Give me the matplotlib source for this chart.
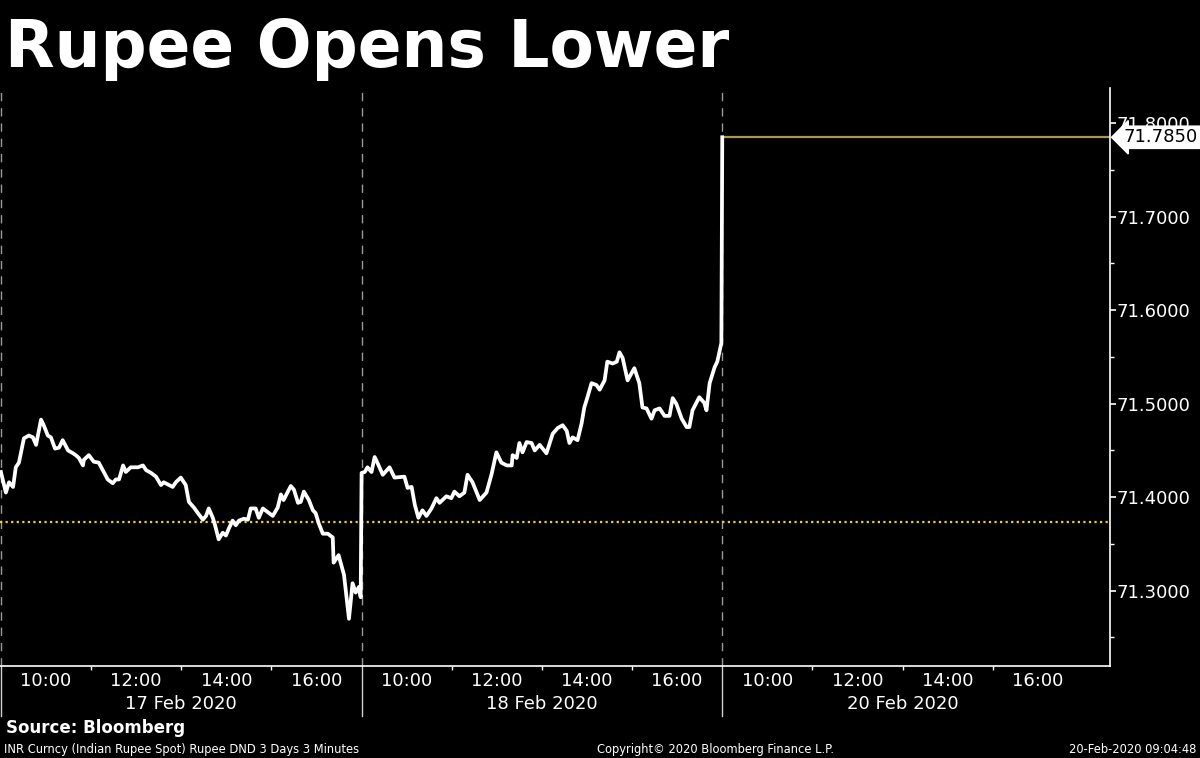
#!/usr/bin/python3
#
# Bloomberg-style intraday chart of the Indian rupee (INR per USD), 17-20 Feb 2020.

import matplotlib

matplotlib.use("Agg")
import matplotlib.pyplot as plt
import matplotlib.ticker as ticker
import matplotlib.transforms as transforms

title = "Rupee Opens Lower"
days = ["17 Feb 2020", "18 Feb 2020", "20 Feb 2020"]
session_open = 9
session_len = 8
hour_labels = [10, 12, 14, 16]

# Hour of day and INR spot rate.
day1_hours = [
    9.00, 9.11, 9.18, 9.27, 9.33, 9.40, 9.51, 9.62, 9.71, 9.78, 9.89, 9.95,
    10.04, 10.11, 10.20, 10.29, 10.37, 10.49, 10.60, 10.66, 10.73, 10.82, 10.84,
    10.95, 11.06, 11.17, 11.26, 11.37, 11.48, 11.55, 11.62, 11.71, 11.77, 11.88,
    12.04, 12.15, 12.22, 12.33, 12.44, 12.55, 12.61, 12.73, 12.81, 12.88, 12.99,
    13.10, 13.17, 13.28, 13.37, 13.48, 13.55, 13.61, 13.70, 13.75, 13.83, 13.92,
    13.99, 14.06, 14.14, 14.21, 14.28, 14.39, 14.48, 14.54, 14.65, 14.72, 14.81,
    14.92, 15.03, 15.14, 15.21, 15.27, 15.43, 15.50, 15.59, 15.65, 15.72, 15.83,
    15.92, 15.98, 16.05, 16.14, 16.25, 16.36, 16.38, 16.49, 16.61, 16.72, 16.80,
    16.87, 16.94, 16.98,
]
day1_values = [
    71.427, 71.405, 71.416, 71.411, 71.432, 71.437, 71.463, 71.466, 71.464,
    71.456, 71.483, 71.477, 71.466, 71.464, 71.452, 71.453, 71.461, 71.450,
    71.447, 71.445, 71.442, 71.434, 71.440, 71.445, 71.438, 71.437, 71.429,
    71.419, 71.415, 71.419, 71.419, 71.434, 71.427, 71.432, 71.432, 71.434,
    71.429, 71.426, 71.422, 71.413, 71.416, 71.413, 71.411, 71.416, 71.421,
    71.413, 71.395, 71.389, 71.383, 71.376, 71.380, 71.388, 71.378, 71.370,
    71.355, 71.362, 71.359, 71.367, 71.375, 71.370, 71.375, 71.377, 71.376,
    71.388, 71.388, 71.378, 71.388, 71.384, 71.380, 71.389, 71.403, 71.397,
    71.412, 71.408, 71.394, 71.395, 71.406, 71.397, 71.386, 71.383, 71.372,
    71.361, 71.361, 71.357, 71.330, 71.338, 71.317, 71.270, 71.308, 71.298,
    71.304, 71.293,
]
day2_hours = [
    9.00, 9.07, 9.13, 9.22, 9.29, 9.35, 9.47, 9.62, 9.73, 9.95, 10.02, 10.11,
    10.18, 10.26, 10.35, 10.44, 10.55, 10.66, 10.73, 10.88, 10.99, 11.06, 11.17,
    11.28, 11.35, 11.46, 11.62, 11.77, 11.88, 11.99, 12.10, 12.22, 12.33, 12.35,
    12.44, 12.50, 12.57, 12.66, 12.77, 12.84, 12.95, 13.10, 13.24, 13.35, 13.46,
    13.55, 13.61, 13.68, 13.79, 13.88, 13.94, 14.01, 14.10, 14.21, 14.28, 14.39,
    14.45, 14.57, 14.66, 14.72, 14.79, 14.90, 15.05, 15.16, 15.23, 15.32, 15.43,
    15.50, 15.61, 15.72, 15.83, 15.90, 15.98, 16.10, 16.21, 16.27, 16.34, 16.49,
    16.60, 16.65, 16.72, 16.83, 16.89, 16.98,
]
day2_values = [
    71.426, 71.427, 71.432, 71.427, 71.443, 71.437, 71.424, 71.432, 71.421,
    71.422, 71.410, 71.411, 71.392, 71.378, 71.386, 71.380, 71.388, 71.399,
    71.394, 71.401, 71.399, 71.406, 71.401, 71.405, 71.424, 71.416, 71.397,
    71.405, 71.424, 71.448, 71.437, 71.434, 71.434, 71.445, 71.442, 71.458,
    71.448, 71.459, 71.458, 71.450, 71.456, 71.447, 71.468, 71.474, 71.477,
    71.471, 71.458, 71.464, 71.461, 71.479, 71.496, 71.507, 71.522, 71.520,
    71.515, 71.525, 71.545, 71.543, 71.545, 71.555, 71.549, 71.525, 71.538,
    71.522, 71.496, 71.495, 71.484, 71.493, 71.495, 71.487, 71.487, 71.506,
    71.500, 71.484, 71.475, 71.475, 71.493, 71.507, 71.501, 71.493, 71.522,
    71.539, 71.545, 71.565,
]
day3_hours = [9.00]
day3_values = [71.785]

prev_close = 71.3738
last_price = 71.785

footer_left = "INR Curncy (Indian Rupee Spot) Rupee DND 3 Days 3 Minutes"
footer_mid = "Copyright\u00a9 2020 Bloomberg Finance L.P."
footer_right = "20-Feb-2020 09:04:48"


def trading_time(day, hour):
    # Hours since the first session opened, skipping the overnight gaps.
    return day * session_len + (hour - session_open)


def main():
    plt.rcParams["font.family"] = ["DejaVu Sans"]
    fig = plt.figure(figsize=(12, 7.58), dpi=100, facecolor="black")
    ax = fig.add_axes([0.0, 0.1214, 0.925, 0.7625], facecolor="black")

    xs, ys = [], []
    for (d, (hours, values)) in enumerate(
        [(day1_hours, day1_values), (day2_hours, day2_values), (day3_hours, day3_values)]
    ):
        xs.extend(trading_time(d, h) for h in hours)
        ys.extend(values)

    x_max = 24.6
    ax.set_xlim(-0.02, x_max)
    ax.set_ylim(71.2195, 71.8377)

    # Day separators.
    for d in range(len(days)):
        ax.axvline(d * session_len, color="#9a9a9a", lw=1, ls=(0, (6, 5)), zorder=1)

    ax.axhline(prev_close, color="#f0d020", lw=1.6, ls=(0, (1, 1.5)), zorder=2)
    ax.hlines(last_price, xs[-1], x_max, color="#a89a50", lw=1.6, zorder=2)
    ax.plot(xs, ys, color="white", lw=2.7, solid_joinstyle="round", zorder=3)

    for side in ["left", "top"]:
        ax.spines[side].set_visible(False)
    for side in ["right", "bottom"]:
        ax.spines[side].set_color("white")
        ax.spines[side].set_linewidth(1.2)

    ax.yaxis.tick_right()
    ax.yaxis.set_major_locator(ticker.MultipleLocator(0.1))
    ax.yaxis.set_minor_locator(ticker.MultipleLocator(0.05))
    ax.yaxis.set_major_formatter(ticker.FormatStrFormatter("%.4f"))
    ax.tick_params(axis="y", which="major", colors="white", length=4, width=1.2,
                   labelsize=13, pad=1)
    ax.tick_params(axis="y", which="minor", colors="white", length=3, width=1)

    major_x = [trading_time(d, h) for d in range(len(days)) for h in hour_labels]
    minor_x = [trading_time(d, h + 1) for d in range(len(days)) for h in hour_labels[:-1]]
    ax.set_xticks(major_x)
    ax.set_xticklabels([f"{h}:00" for d in days for h in hour_labels])
    ax.set_xticks(minor_x, minor=True)
    ax.tick_params(axis="x", which="major", colors="white", length=0, labelsize=13, pad=4)
    ax.tick_params(axis="x", which="minor", colors="white", length=3, width=1)

    trans = transforms.blended_transform_factory(ax.transData, ax.transAxes)
    for (d, label) in enumerate(days):
        ax.text(trading_time(d, session_open + session_len / 2), -0.066, label,
                transform=trans, ha="center", va="center", color="white", fontsize=13)
        ax.plot([d * session_len] * 2, [0, -0.087], transform=trans, color="#d0d0d0",
                lw=1, clip_on=False)

    # Last price tag on the right axis (it covers part of the top tick label).
    tag_trans = transforms.blended_transform_factory(ax.transAxes, ax.transData)
    ax.text(1.012, last_price, f"{last_price:.4f}", transform=tag_trans, ha="left",
            va="center", color="black", fontsize=13, zorder=5,
            bbox=dict(boxstyle="larrow,pad=0.12", fc="white", ec="white"))

    fig.text(0.004, 0.935, title, color="white", fontsize=46.5, fontweight="bold",
             ha="left", va="center")
    fig.text(0.005, 0.039, "Source: Bloomberg", color="white", fontsize=12,
             fontweight="bold", ha="left", va="center")
    fig.text(0.003, 0.011, footer_left, color="white", fontsize=8.3, ha="left", va="center")
    fig.text(0.596, 0.011, footer_mid, color="white", fontsize=8.3, ha="center", va="center")
    fig.text(0.997, 0.011, footer_right, color="white", fontsize=8.3, ha="right", va="center")

    fig.savefig("out.png", facecolor="black")


if __name__ == "__main__":
    main()
